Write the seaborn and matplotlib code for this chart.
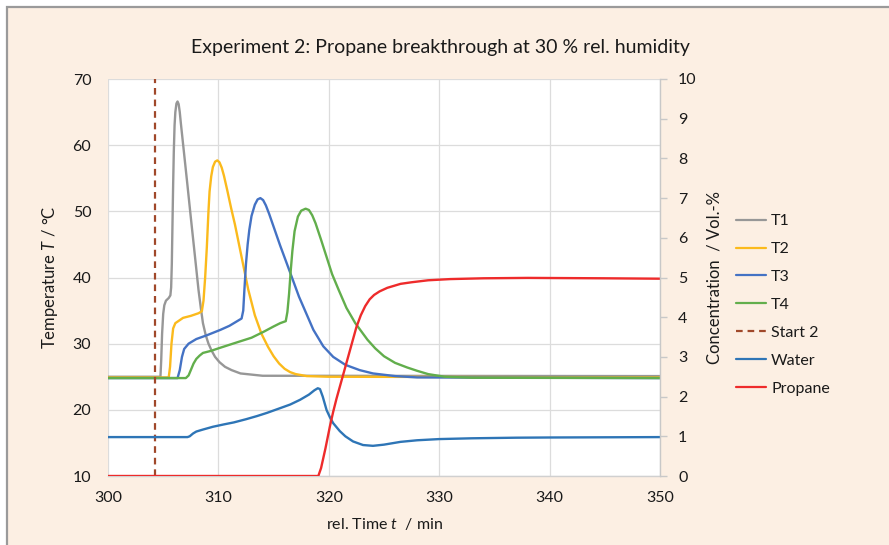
import matplotlib
matplotlib.use("Agg")
import matplotlib.pyplot as plt
from matplotlib.patches import Rectangle
from matplotlib.lines import Line2D
import numpy as np
import pandas as pd
import seaborn as sns

# ---- data -------------------------------------------------------------
t1_time = [300, 304.75, 304.82, 304.9, 305.0, 305.1, 305.25, 305.5, 305.65, 305.72,
           305.78, 305.84, 305.9, 305.96, 306.03, 306.1, 306.2, 306.3, 306.4, 306.5,
           306.6, 306.9, 307.2, 307.5, 307.8, 308.2, 308.4, 308.6, 308.85, 309.1,
           309.4, 309.7, 310.1, 310.6, 311.2, 312.0, 314.0, 350]
t1_temp = [25.0, 25.0, 27.5, 31.5, 34.5, 35.8, 36.5, 36.9, 37.3, 38.5,
           42.0, 48.0, 54.0, 59.0, 63.0, 65.0, 66.3, 66.6, 66.2, 65.0,
           63.3, 58.6, 53.9, 49.1, 44.4, 38.1, 35.5, 33.1, 31.3, 30.0,
           28.9, 28.0, 27.2, 26.5, 26.0, 25.5, 25.15, 25.1]

t2_time = [300, 305.5, 305.62, 305.75, 305.9, 306.1, 306.8, 307.5, 308.2, 308.5,
           308.65, 308.8, 308.95, 309.1, 309.2, 309.35, 309.5, 309.7, 309.9, 310.1,
           310.3, 310.5, 310.8, 311.15, 311.5, 312.1, 312.7, 313.3, 313.9, 314.5,
           315.0, 315.5, 316.0, 316.5, 317.0, 318.0, 320.0, 350]
t2_temp = [24.9, 24.9, 26.5, 30.0, 32.3, 33.1, 33.9, 34.2, 34.6, 34.9,
           36.5, 40.0, 44.5, 50.0, 53.0, 55.3, 56.7, 57.5, 57.7, 57.4,
           56.6, 55.4, 53.2, 50.5, 48.0, 43.1, 38.2, 34.3, 31.5, 29.5,
           28.1, 27.0, 26.2, 25.7, 25.4, 25.1, 25.0, 24.9]

t3_time = [300, 306.3, 306.5, 306.7, 306.9, 307.3, 308.0, 309.0, 310.2, 311.0,
           311.6, 312.1, 312.25, 312.35, 312.5, 312.65, 312.8, 313.0, 313.3, 313.55,
           313.8, 314.05, 314.3, 314.6, 315.1, 315.6, 316.2, 317.3, 318.6, 319.5,
           320.4, 321.5, 322.8, 324.0, 326.0, 328.0, 350]
t3_temp = [24.8, 24.8, 26.0, 28.0, 29.2, 30.0, 30.7, 31.3, 32.1, 32.7,
           33.3, 33.8, 35.0, 38.0, 42.1, 45.0, 47.2, 49.3, 51.0, 51.8,
           52.0, 51.7, 50.9, 49.6, 47.2, 44.8, 42.1, 37.1, 32.1, 29.6,
           28.0, 26.8, 26.0, 25.5, 25.1, 24.9, 24.8]

t4_time = [300, 307.05, 307.3, 307.5, 307.75, 308.0, 308.3, 308.6, 309.3, 310.2,
           311.5, 313.0, 314.1, 315.0, 315.6, 316.1, 316.25, 316.4, 316.55, 316.7,
           316.9, 317.2, 317.5, 317.9, 318.2, 318.5, 318.8, 319.3, 319.8, 320.3,
           320.9, 321.6, 322.4, 323.5, 324.2, 325.0, 326.0, 327.1, 328.0, 329.0,
           330.5, 333.0, 350]
t4_temp = [24.8, 24.8, 25.2, 26.0, 27.0, 27.7, 28.2, 28.6, 28.9, 29.4,
           30.1, 30.9, 31.8, 32.6, 33.1, 33.4, 34.8, 37.5, 41.0, 44.0,
           47.0, 49.2, 50.1, 50.4, 50.2, 49.4, 48.2, 45.7, 43.1, 40.5,
           38.1, 35.4, 33.1, 30.6, 29.3, 28.1, 27.1, 26.4, 25.9, 25.4,
           25.0, 24.85, 24.8]

start_time = 304.3

water_time = [300, 307.2, 307.4, 307.7, 308.0, 308.6, 309.5, 310.5, 311.4, 312.5,
              313.5, 314.4, 315.5, 316.5, 317.4, 318.2, 318.7, 319.0, 319.2, 319.45,
              319.8, 320.1, 320.4, 321.0, 321.5, 322.2, 323.1, 324.0, 325.0, 326.5,
              328.0, 330.0, 333.0, 337.0, 340.0, 345.0, 350]
water_conc = [0.98, 0.98, 1.0, 1.07, 1.12, 1.17, 1.24, 1.30, 1.35, 1.43,
              1.51, 1.59, 1.70, 1.80, 1.92, 2.05, 2.16, 2.21, 2.19, 2.0,
              1.66, 1.48, 1.33, 1.13, 1.00, 0.87, 0.78, 0.76, 0.79, 0.86,
              0.90, 0.93, 0.95, 0.965, 0.97, 0.975, 0.98]

propane_time = [300, 319.05, 319.3, 319.7, 320.1, 320.4, 320.7, 321.0, 321.3, 321.7,
                322.1, 322.5, 322.9, 323.3, 323.7, 324.1, 324.6, 325.3, 326.5, 327.5,
                329.0, 331.0, 334.0, 338.0, 345.0, 350]
propane_conc = [0.0, 0.0, 0.2, 0.7, 1.25, 1.62, 1.95, 2.25, 2.55, 2.95,
                3.35, 3.75, 4.05, 4.28, 4.45, 4.56, 4.65, 4.74, 4.84, 4.88,
                4.93, 4.96, 4.98, 4.99, 4.98, 4.97]

temp_names = ["T1", "T2", "T3", "T4"]
conc_names = ["Water", "Propane"]

x_ticks = [300, 310, 320, 330, 340, 350]
temp_ticks = [10, 20, 30, 40, 50, 60, 70]
conc_ticks = list(range(0, 11))

title = "Experiment 2: Propane breakthrough at 30 % rel. humidity"

# ---- styling ----------------------------------------------------------
colors = {"T1": "#979797", "T2": "#FBBA1C", "T3": "#4472C4", "T4": "#62AE4C",
          "Start 2": "#A0482A", "Water": "#2E75B6", "Propane": "#EE2B2B"}

sns.set_theme(style="white")
plt.rcParams["font.family"] = ["Lato", "DejaVu Sans"]
plt.rcParams["mathtext.fontset"] = "custom"
plt.rcParams["mathtext.rm"] = "Lato"
plt.rcParams["mathtext.it"] = "Lato:italic"
text_color = "#1a1a1a"

temp_df = pd.concat([
    pd.DataFrame({"time": t, "value": v, "series": n})
    for n, t, v in zip(temp_names, [t1_time, t2_time, t3_time, t4_time],
                       [t1_temp, t2_temp, t3_temp, t4_temp])
], ignore_index=True)
conc_df = pd.concat([
    pd.DataFrame({"time": t, "value": v, "series": n})
    for n, t, v in zip(conc_names, [water_time, propane_time],
                       [water_conc, propane_conc])
], ignore_index=True)

W, H = 889, 545
fig = plt.figure(figsize=(W / 100, H / 100), dpi=100, facecolor="white")

# chart area background with frame
fig.patches.append(Rectangle((7 / W, -0.05), 1.1, 1 - 7 / H + 0.05,
                             transform=fig.transFigure, facecolor="#FCEFE3",
                             edgecolor="#9a9a9a", linewidth=1.6, zorder=-10))

ax = fig.add_axes([108 / W, 1 - 476 / H, (660 - 108) / W, (476 - 79) / H])
ax.set_facecolor("white")

sns.lineplot(data=temp_df, x="time", y="value", hue="series",
             hue_order=temp_names, palette=colors, estimator=None, sort=False,
             linewidth=1.7, ax=ax, legend=False)
for ln in ax.lines:
    ln.set_solid_joinstyle("round")
start_line = ax.axvline(start_time, color=colors["Start 2"], linewidth=1.6,
                        linestyle=(0, (3, 2.2)), zorder=3)

ax.set_xlim(300, 350)
ax.set_ylim(10, 70)
ax.set_xticks(x_ticks)
ax.set_yticks(temp_ticks)
ax.grid(True, color="#DCDCDC", linewidth=0.9)
ax.set_axisbelow(True)
for s in ["top", "left", "right"]:
    ax.spines[s].set_visible(False)
ax.spines["bottom"].set_color("#D0D0D0")
ax.spines["bottom"].set_linewidth(1.0)
ax.tick_params(axis="both", length=0, labelsize=11.5, colors=text_color)
ax.tick_params(axis="y", pad=12)
ax.tick_params(axis="x", pad=11)
ax.set_xlabel(r"rel. Time $t$  / min", fontsize=11.5, color=text_color, labelpad=8)
ax.set_ylabel(r"Temperature $T$ / °C", fontsize=12, color=text_color, labelpad=9)

ax2 = ax.twinx()
sns.lineplot(data=conc_df, x="time", y="value", hue="series",
             hue_order=conc_names, palette=colors, estimator=None, sort=False,
             linewidth=1.7, ax=ax2, legend=False)
for ln in ax2.lines:
    ln.set_solid_joinstyle("round")
ax2.set_ylim(0, 10)
ax2.set_yticks(conc_ticks)
ax2.set_xlim(300, 350)
for s in ["top", "left", "bottom"]:
    ax2.spines[s].set_visible(False)
ax2.spines["right"].set_color("#C8C8C8")
ax2.spines["right"].set_linewidth(1.0)
ax2.tick_params(axis="y", length=5, width=1.0, color="#C8C8C8", pad=8,
                labelsize=11.5, labelcolor=text_color)
ax2.set_ylabel("Concentration  / Vol.-%", fontsize=12, color=text_color, labelpad=7)

fig.text(440 / W, 1 - 48 / H, title, ha="center", va="center",
         fontsize=14, color=text_color)

# legend
handles = list(ax.lines[:4]) + [start_line] + list(ax2.lines[:2])
labels = temp_names + ["Start 2"] + conc_names
leg_handles = [Line2D([], [], color=h.get_color(), linewidth=1.6,
                      linestyle=h.get_linestyle()) for h in handles]
leg_handles[4] = Line2D([], [], color=colors["Start 2"], linewidth=1.6,
                        linestyle=(0, (3, 2.2)))
fig.legend(leg_handles, labels, loc="upper left",
           bbox_to_anchor=(736 / W, 1 - 214 / H), frameon=False,
           fontsize=11.5, handlelength=1.9, handletextpad=0.3,
           labelspacing=0.86, borderpad=0, borderaxespad=0,
           labelcolor=text_color)

fig.savefig("out.png", dpi=100, facecolor=fig.get_facecolor())
